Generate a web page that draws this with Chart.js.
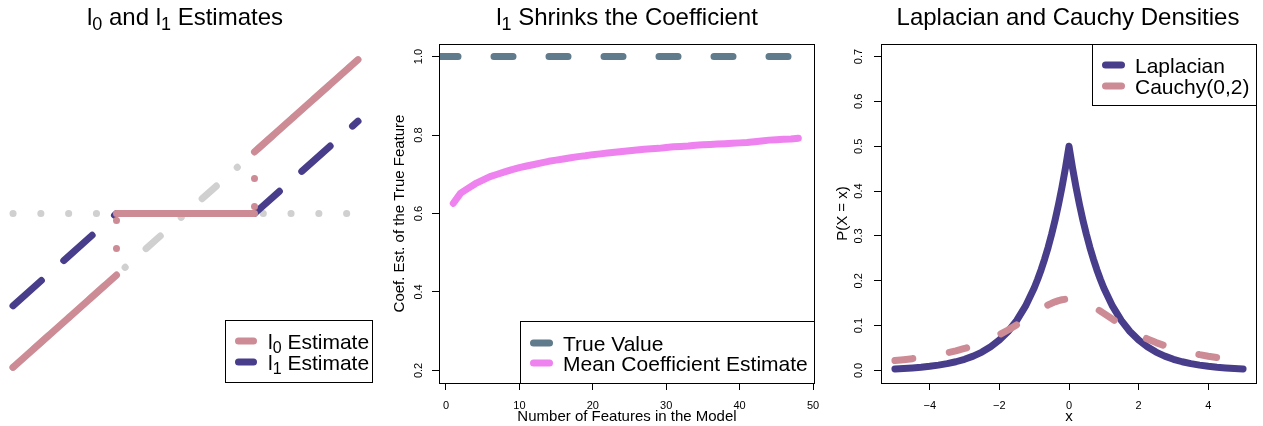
<!DOCTYPE html>
<html>
<head>
<meta charset="utf-8">
<script src="https://cdn.jsdelivr.net/npm/chart.js@4.4.1/dist/chart.umd.min.js"></script>
<style>
  body { margin: 0; background: #fff; width: 1263px; height: 426px; position: relative; overflow: hidden; }
  canvas { position: absolute; top: 0; }
  #c1 { left: 0; }
  #c2 { left: 380px; }
  #c3 { left: 830px; }
</style>
</head>
<body>
<canvas id="c1" width="380" height="426"></canvas>
<canvas id="c2" width="450" height="426"></canvas>
<canvas id="c3" width="433" height="426"></canvas>
<script>
// ============ DATA ============

// panel 1: l0 (hard) and l1 (soft) thresholding of one coefficient, lambda = 0.4
const inputRange = [-1, 1];
const zeroLine = [0, 0];
const l0X = [-1, -0.4, -0.4, -0.4, 0.4, 0.4, 0.4, 1];
const l0Y = [-1, -0.4, null, 0, 0, null, 0.4, 1];
const jumpX = [-0.4, -0.4, -0.4, 0.4, 0.4];
const jumpY = [-0.4, 0, null, 0.4, 0];
const l1X = [-1, -0.4, 0.4, 1];
const l1Y = [-0.6, 0, 0, 0.6];

// panel 2: mean coefficient estimate vs number of features
const featureCounts = [1, 2, 3, 4, 5, 6, 7, 8, 9, 10, 11, 12, 13, 14, 15, 16, 17, 18, 19, 20, 21, 22, 23, 24,
                       25, 26, 27, 28, 29, 30, 31, 32, 33, 34, 35, 36, 37, 38, 39, 40, 41, 42, 43, 44, 45, 46, 47, 48];
const meanCoef = [0.626, 0.652, 0.664, 0.676, 0.685, 0.694, 0.700, 0.706, 0.712, 0.717, 0.721, 0.725,
                  0.729, 0.733, 0.736, 0.739, 0.742, 0.745, 0.747, 0.750, 0.752, 0.754, 0.756, 0.758,
                  0.760, 0.762, 0.764, 0.765, 0.766, 0.768, 0.770, 0.771, 0.772, 0.774, 0.775, 0.776,
                  0.777, 0.778, 0.779, 0.780, 0.781, 0.783, 0.785, 0.787, 0.788, 0.789, 0.790, 0.792];
const trueValue = 1;
const featureTicks = [0, 10, 20, 30, 40, 50];
const coefTicks = [0.2, 0.4, 0.6, 0.8, 1.0];

// panel 3: densities
const densX = [-5, -4.75, -4.5, -4.25, -4, -3.75, -3.5, -3.25, -3, -2.75, -2.5, -2.25, -2, -1.75, -1.5, -1.25, -1,
               -0.9, -0.8, -0.7, -0.6, -0.5, -0.4, -0.3, -0.2, -0.1, 0, 0.1, 0.2, 0.3, 0.4, 0.5, 0.6, 0.7, 0.8, 0.9,
               1, 1.25, 1.5, 1.75, 2, 2.25, 2.5, 2.75, 3, 3.25, 3.5, 3.75, 4, 4.25, 4.5, 4.75, 5];
const laplaceY = [0.0034, 0.0043, 0.0056, 0.0071, 0.0092, 0.0118, 0.0151, 0.0194, 0.0249, 0.0320, 0.0410, 0.0527,
                  0.0677, 0.0869, 0.1116, 0.1433, 0.1839,
                  0.2033, 0.2247, 0.2483, 0.2744, 0.3033, 0.3352, 0.3704, 0.4094, 0.4524, 0.5000,
                  0.4524, 0.4094, 0.3704, 0.3352, 0.3033, 0.2744, 0.2483, 0.2247, 0.2033,
                  0.1839, 0.1433, 0.1116, 0.0869, 0.0677, 0.0527, 0.0410, 0.0320, 0.0249, 0.0194, 0.0151,
                  0.0118, 0.0092, 0.0071, 0.0056, 0.0043, 0.0034];
const cauchyY = [0.0220, 0.0240, 0.0263, 0.0289, 0.0318, 0.0352, 0.0392, 0.0437, 0.0490, 0.0551, 0.0621, 0.0702,
                 0.0796, 0.0901, 0.1019, 0.1145, 0.1273,
                 0.1324, 0.1372, 0.1418, 0.1460, 0.1498, 0.1530, 0.1557, 0.1576, 0.1588, 0.1592,
                 0.1588, 0.1576, 0.1557, 0.1530, 0.1498, 0.1460, 0.1418, 0.1372, 0.1324,
                 0.1273, 0.1145, 0.1019, 0.0901, 0.0796, 0.0702, 0.0621, 0.0551, 0.0490, 0.0437, 0.0392,
                 0.0352, 0.0318, 0.0289, 0.0263, 0.0240, 0.0220];
const densXTicks = [-4, -2, 0, 2, 4];
const densYTicks = [0, 0.1, 0.2, 0.3, 0.4, 0.5, 0.6, 0.7];

// ============ STYLE ============
const FONT = '"Liberation Sans", Arial, Helvetica, sans-serif';
const PINK = '#CD8C95';
const PURPLE = '#483D8B';
const GRAY = '#D0D0D0';
const SLATE = '#607B8B';
const VIOLET = '#EE82EE';
const LW = 7;

Chart.defaults.font.family = FONT;
Chart.defaults.color = '#000';

function points(xs, ys) {
    return xs.map((x, i) => ({ x, y: ys[i] }));
}

// draws text made of [text, isSubscript] parts
function drawRich(ctx, parts, x, y, size, align) {
    const subSize = Math.round(size * 0.75);
    let width = 0;
    parts.forEach(([t, sub]) => {
        ctx.font = `${sub ? subSize : size}px ${FONT}`;
        width += ctx.measureText(t).width;
    });
    let cx = align === 'center' ? x - width / 2 : x;
    ctx.textAlign = 'left';
    ctx.textBaseline = 'alphabetic';
    ctx.fillStyle = '#000';
    parts.forEach(([t, sub]) => {
        ctx.font = `${sub ? subSize : size}px ${FONT}`;
        ctx.fillText(t, cx, sub ? y + size * 0.22 : y);
        cx += ctx.measureText(t).width;
    });
}

function titlePlugin(parts, cx) {
    return {
        id: 'richTitle',
        afterDraw(chart) {
            drawRich(chart.ctx, parts, cx, 25, 24, 'center');
        }
    };
}

// legend box like R's legend(): box, short line samples, labels
function boxLegend(box, lineX, textX, items) {
    return {
        id: 'boxLegend',
        afterDraw(chart) {
            const ctx = chart.ctx;
            ctx.save();
            ctx.fillStyle = '#fff';
            ctx.fillRect(box[0], box[1], box[2] - box[0], box[3] - box[1]);
            ctx.strokeStyle = '#000';
            ctx.lineWidth = 1;
            ctx.strokeRect(box[0] + 0.5, box[1] + 0.5, box[2] - box[0] - 1, box[3] - box[1] - 1);
            items.forEach(item => {
                ctx.beginPath();
                ctx.lineCap = 'round';
                ctx.lineWidth = LW;
                ctx.strokeStyle = item.color;
                ctx.moveTo(lineX[0], item.y);
                ctx.lineTo(lineX[1], item.y);
                ctx.stroke();
                drawRich(ctx, item.parts, textX, item.y + 7.5, 21, 'left');
            });
            ctx.restore();
        }
    };
}

const framePlugin = {
    id: 'frame',
    afterDraw(chart) {
        const { left, top, right, bottom } = chart.chartArea;
        const ctx = chart.ctx;
        ctx.save();
        ctx.strokeStyle = '#000';
        ctx.lineWidth = 1;
        ctx.strokeRect(Math.round(left) + 0.5, Math.round(top) + 0.5,
                       Math.round(right - left) - 1, Math.round(bottom - top));
        ctx.restore();
    }
};

function axis(min, max, ticks, fmt, tickOpts, extra) {
    return Object.assign({
        type: 'linear',
        min, max,
        afterBuildTicks: s => { s.ticks = ticks.map(v => ({ value: v })); },
        border: { display: false },
        grid: { drawOnChartArea: false, drawTicks: true, tickLength: 7, color: '#000', lineWidth: 1 },
        ticks: Object.assign({ autoSkip: false, font: { size: 11 }, color: '#000', callback: fmt }, tickOpts)
    }, extra);
}

// R style y tick labels: rotated, reading upwards, centred on the tick
const yTickStyle = pad => ({ minRotation: 90, maxRotation: 90, crossAlign: 'center', padding: pad });
const xTickStyle = { maxRotation: 0, minRotation: 0, padding: 9 };

const lineBase = { pointRadius: 0, tension: 0, borderCapStyle: 'round', borderJoinStyle: 'round', borderWidth: LW };
const baseOptions = {
    responsive: false,
    animation: false,
    events: [],
    plugins: { legend: { display: false }, tooltip: { enabled: false }, title: { display: false } }
};

// ============ PANEL 1 ============
new Chart(document.getElementById('c1'), {
    type: 'line',
    data: {
        datasets: [
            { ...lineBase, data: points(l0X, l0Y), borderColor: PINK, clip: false, spanGaps: false },
            { ...lineBase, data: points(jumpX, jumpY), borderColor: PINK, clip: false,
              borderDash: [0.1, 27.9], borderDashOffset: 1.5, spanGaps: false },
            { ...lineBase, data: points(l1X, l1Y), borderColor: PURPLE, clip: false, borderDash: [38, 30] },
            { ...lineBase, data: points(inputRange, inputRange), borderColor: GRAY, clip: false,
              borderDash: [0.1, 28, 19, 28] },
            { ...lineBase, data: points(inputRange, zeroLine), borderColor: GRAY, clip: false,
              borderDash: [0.1, 27.7] }
        ]
    },
    options: {
        ...baseOptions,
        layout: { padding: { left: 13, right: 22, top: 52, bottom: 51 } },
        scales: {
            x: { type: 'linear', min: -1, max: 1, display: false },
            y: { type: 'linear', min: -1.05, max: 1.05, display: false }
        }
    },
    plugins: [
        titlePlugin([['l'], ['0', true], [' and l'], ['1', true], [' Estimates']], 185),
        boxLegend([225, 320, 373, 383], [238.5, 253.5], 268, [
            { y: 341, color: PINK, parts: [['l'], ['0', true], [' Estimate']] },
            { y: 362, color: PURPLE, parts: [['l'], ['1', true], [' Estimate']] }
        ])
    ]
});

// ============ PANEL 2 ============
const featMin = -0.95, featMax = 50.27;
new Chart(document.getElementById('c2'), {
    type: 'line',
    data: {
        datasets: [
            { ...lineBase, data: points(featureCounts, meanCoef), borderColor: VIOLET },
            { ...lineBase, data: points([featMin, featMax], [trueValue, trueValue]), borderColor: SLATE,
              borderDash: [19, 36], clip: 0 }
        ]
    },
    options: {
        ...baseOptions,
        layout: { padding: { left: 0, right: 15, top: 44, bottom: 0 } },
        scales: {
            x: axis(featMin, featMax, featureTicks, v => String(v), xTickStyle, {
                afterFit: s => { s.height = 43; },
                title: { display: true, text: 'Number of Features in the Model', font: { size: 15 }, color: '#000', padding: 0 }
            }),
            y: axis(0.168, 1.032, coefTicks, v => v.toFixed(1), yTickStyle(5), {
                afterFit: s => { s.width = 59; },
                title: { display: true, text: 'Coef. Est. of the True Feature', font: { size: 15 }, color: '#000', padding: { top: 11, bottom: 0 } }
            })
        }
    },
    plugins: [
        framePlugin,
        titlePlugin([['l'], ['1', true], [' Shrinks the Coefficient']], 247),
        boxLegend([140, 321, 435, 384], [153.5, 169.5], 183, [
            { y: 343, color: SLATE, parts: [['True Value']] },
            { y: 363, color: VIOLET, parts: [['Mean Coefficient Estimate']] }
        ])
    ]
});

// ============ PANEL 3 ============
const minusFmt = v => (v < 0 ? '\u2212' + Math.abs(v) : String(v));
new Chart(document.getElementById('c3'), {
    type: 'line',
    data: {
        datasets: [
            { ...lineBase, data: points(densX, cauchyY), borderColor: PINK, borderDash: [18, 37] },
            { ...lineBase, data: points(densX, laplaceY), borderColor: PURPLE }
        ]
    },
    options: {
        ...baseOptions,
        layout: { padding: { left: 0, right: 6, top: 44, bottom: 0 } },
        scales: {
            x: axis(-5.4, 5.4, densXTicks, minusFmt, xTickStyle, {
                afterFit: s => { s.height = 43; },
                title: { display: true, text: 'x', font: { size: 15 }, color: '#000', padding: 0 }
            }),
            y: axis(-0.028, 0.728, densYTicks, v => v.toFixed(1), yTickStyle(7), {
                afterFit: s => { s.width = 51; },
                title: { display: true, text: 'P(X = x)', font: { size: 15 }, color: '#000', padding: { top: 4, bottom: 0 } }
            })
        }
    },
    plugins: [
        framePlugin,
        titlePlugin([['Laplacian and Cauchy Densities']], 238),
        boxLegend([262, 44, 427, 106], [275.5, 291.5], 305, [
            { y: 65, color: PURPLE, parts: [['Laplacian']] },
            { y: 86, color: PINK, parts: [['Cauchy(0,2)']] }
        ])
    ]
});
</script>
</body>
</html>
